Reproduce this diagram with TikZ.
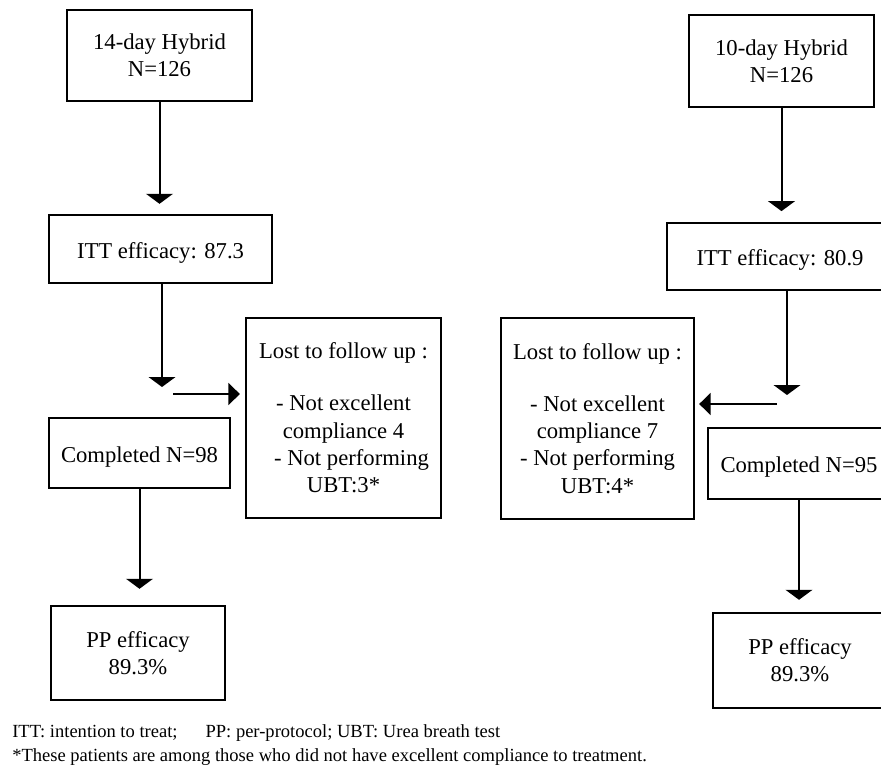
\documentclass[tikz,border=0pt]{standalone}
\usepackage{fontspec}
\setmainfont{Liberation Serif}
\usetikzlibrary{arrows.meta}

\begin{document}
\begin{tikzpicture}[x=0.75pt,y=0.75pt,yscale=-1,xscale=1,
    flowbox/.style={draw, line width=1.8pt, inner sep=0pt, align=center, font=\fontsize{17pt}{20.5pt}\selectfont, execute at begin node={\rule{0pt}{17.5pt}}},
    downarr/.style={line width=1.5pt, -{Triangle[width=20pt,length=7.5pt]}},
    sidearr/.style={line width=1.5pt, -{Triangle[width=16.5pt,length=8.5pt]}},
    notetext/.style={anchor=west, inner sep=0pt, font=\fontsize{13.9pt}{18pt}\selectfont}]
    \useasboundingbox (0,0) rectangle (881,767);
    \clip (0,0) rectangle (881,767);

    % 14-day column
    \node[flowbox, minimum width=138.75pt, minimum height=68.25pt] (hyb14) at (159.5,55.5) {14-day Hybrid\\N=126};
    \node[flowbox, minimum width=167.25pt, minimum height=51pt] (itt14) at (160.5,249) {ITT efficacy: 87.3};
    \node[flowbox, minimum width=146.25pt, minimum height=150pt] (lost14) at (343.5,418) {Lost to follow up :\\[18.5pt]- Not excellent\\compliance 4\\\hspace*{12pt}- Not performing\\UBT:3*};
    \node[flowbox, minimum width=135.75pt, minimum height=52.5pt] (done14) at (139.5,453) {Completed N=98};
    \node[flowbox, minimum width=130.5pt, minimum height=70.5pt] (pp14) at (138,653) {PP efficacy\\89.3\%};

    % 10-day column
    \node[flowbox, minimum width=138.75pt, minimum height=69pt] (hyb10) at (781.5,61) {10-day Hybrid\\N=126};
    \node[flowbox, minimum width=169.5pt, minimum height=50.25pt] (itt10) at (780,256.5) {ITT efficacy: 80.9};
    \node[flowbox, minimum width=144.75pt, minimum height=150.75pt] (lost10) at (597.5,418.5) {Lost to follow up :\\[18.5pt]- Not excellent\\compliance 7\\- Not performing\\UBT:4*};
    \node[flowbox, minimum width=136.5pt, minimum height=53.25pt] (done10) at (799,463.5) {Completed N=95};
    \node[flowbox, minimum width=130.5pt, minimum height=71.25pt] (pp10) at (800,660.5) {PP efficacy\\89.3\%};

    % split points
    \coordinate (fork14) at (162,387);
    \coordinate (side14) at (173,394);
    \coordinate (fork10) at (787,395);
    \coordinate (side10) at (777,404);

    % arrows
    \draw[downarr, shorten >=7.5pt] (hyb14.south) -- (hyb14.south |- itt14.north);
    \draw[downarr] (itt14.south -| fork14) -- (fork14);
    \draw[sidearr, shorten >=3.75pt] (side14) -- (side14 -| lost14.west);
    \draw[downarr, shorten >=12pt] (done14.south) -- (done14.south |- pp14.north);
    \draw[downarr, shorten >=8pt] (hyb10.south) -- (hyb10.south |- itt10.north);
    \draw[downarr] (itt10.south -| fork10) -- (fork10);
    \draw[sidearr, shorten >=3pt] (side10) -- (side10 -| lost10.east);
    \draw[downarr, shorten >=9pt] (done10.south) -- (done10.south |- pp10.north);

    % footnotes
    \node[notetext] (abbrev) at (12,733) {ITT: intention to treat;\hspace{21pt}PP: per-protocol; UBT: Urea breath test};
    \node[notetext] (starnote) at (12,757) {*These patients are among those who did not have excellent compliance to treatment.};
\end{tikzpicture}
\end{document}
